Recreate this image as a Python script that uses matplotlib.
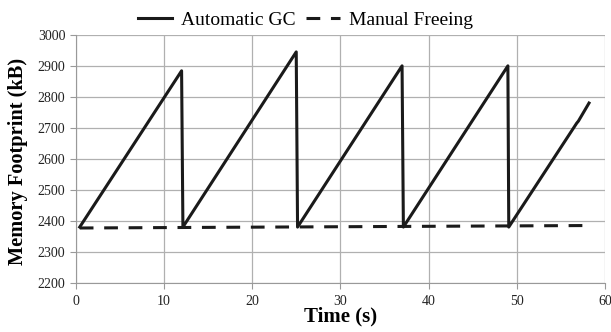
import matplotlib
matplotlib.use("Agg")
import matplotlib.pyplot as plt

plt.rcParams['font.family'] = ['Liberation Serif', 'DejaVu Serif']

# automatic GC sawtooth (time s, memory kB)
gc_t = [0.45, 12.0, 12.15, 25.0, 25.15, 37.0, 37.15, 49.0, 49.1, 56.8, 57.0, 58.2]
gc_m = [2380, 2884, 2380, 2945, 2380, 2900, 2380, 2900, 2380, 2715, 2722, 2780]

# manual freeing, almost flat
mf_t = [0.45, 58.5]
mf_m = [2377, 2385]

fig = plt.figure(figsize=(6.11, 3.32), dpi=100)
ax = fig.add_axes([0.124, 0.148, 0.866, 0.747])

ax.plot(gc_t, gc_m, color='#1a1a1a', lw=2.2, label='Automatic GC')
ax.plot(mf_t, mf_m, color='#1a1a1a', lw=2.2, ls=(0, (4.5, 3.5)), label='Manual Freeing')

ax.set_xlim(0, 60)
ax.set_ylim(2200, 3000)
ax.set_xticks(range(0, 61, 10))
ax.set_yticks(range(2200, 3001, 100))
ax.grid(True, color='#b0b0b0', lw=0.9)
ax.set_axisbelow(True)
for s in ['top', 'right']:
    ax.spines[s].set_visible(False)
for s in ['left', 'bottom']:
    ax.spines[s].set_color('#999999')
ax.tick_params(colors='#999999', labelcolor='#222222', labelsize=10, length=4)
ax.tick_params(axis='x', pad=5)

ax.set_xlabel('Time (s)', fontsize=15, fontweight='bold', labelpad=-1)
ax.set_ylabel('Memory Footprint (kB)', fontsize=14.7, fontweight='bold')
ax.yaxis.set_label_coords(-0.091, 0.49)

# legend centred on the whole figure, like the original
fig.legend(loc='lower center', bbox_to_anchor=(0.5, 0.913), ncol=2, frameon=False,
           fontsize=14, handlelength=1.75, columnspacing=0.5, handletextpad=0.5,
           borderaxespad=0, borderpad=0)

fig.savefig('out.png', dpi=100)
